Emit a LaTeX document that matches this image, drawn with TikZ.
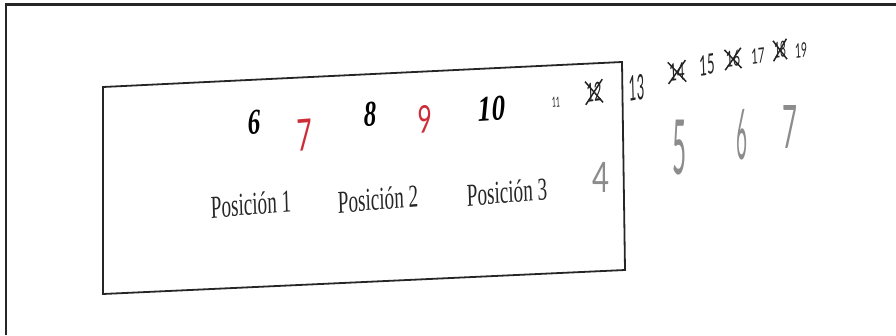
\documentclass[tikz,border=0pt]{standalone}
\usepackage{fontspec}
\setmainfont{Liberation Serif}
\newfontfamily\hand{Lato}
\definecolor{redink}{RGB}{205,45,55}
\definecolor{grayink}{RGB}{140,140,140}
\definecolor{darkink}{RGB}{35,35,35}
\tikzset{
  poslabel/.style={font=\fontsize{32}{34}\selectfont, xscale=0.6, rotate=2.7, inner sep=0pt, text=black!85},
  bignum/.style={font=\fontsize{36}{38}\selectfont\bfseries\itshape, xscale=#1, rotate=2.7, inner sep=0pt},
  hw/.style 2 args={font=\hand\fontsize{#1}{#1}\selectfont, xscale=#2, inner sep=0pt},
  rednum/.style={text=redink, rotate=2.7},
  smallnum/.style={text=darkink, rotate=4},
  graynum/.style={text=grayink},
  crossed/.style={draw=darkink, line width=1.5pt}
}
\begin{document}
\begin{tikzpicture}[x=1pt,y=-1pt]
\useasboundingbox (0,0) rectangle (896,335);
% outer frame (top and left)
\draw[line width=2.2pt, black!85] (6,335) -- (6,4.5) -- (896,4.5);
% inner skewed box
\draw[line width=1.8pt, black!85] (103,87) -- (622,62) -- (625,270) -- (103,294) -- cycle;
% printed numbers
\node[bignum=0.7] (n6) at (254,122) {6};
\node[hw={44}{0.6}, rednum] (n7) at (305,135) {7};
\node[bignum=0.7] (n8) at (370,114) {8};
\node[hw={38}{0.65}, rednum] (n9) at (425,119) {9};
\node[bignum=0.75] (n10) at (492,109) {10};
% positions
\node[poslabel] (p1) at (251,204) {Posición 1};
\node[poslabel] (p2) at (378,199) {Posición 2};
\node[poslabel] (p3) at (507,192) {Posición 3};
% handwritten small numbers
\node[hw={14}{0.5}, smallnum] (h11) at (556,102) {11};
\node[hw={26}{0.5}, smallnum, inner sep=2pt] (h12) at (594,92) {12};
\draw[crossed] (h12.south west) -- (h12.north east) (h12.north west) -- (h12.south east);
\node[hw={35}{0.37}, smallnum] (h13) at (637,88) {13};
\node[hw={24}{0.55}, smallnum, inner sep=2pt] (h14) at (677,72) {14};
\draw[crossed] (h14.south west) -- (h14.north east) (h14.north west) -- (h14.south east);
\node[hw={28}{0.47}, smallnum] (h15) at (707,65) {15};
\node[hw={22}{0.55}, smallnum, inner sep=2pt] (h16) at (733,59) {16};
\draw[crossed] (h16.south west) -- (h16.north east) (h16.north west) -- (h16.south east);
\node[hw={21}{0.54}, smallnum] (h17) at (758,56) {17};
\node[hw={22}{0.45}, smallnum, inner sep=2pt] (h18) at (780,50) {18};
\draw[crossed] (h18.south west) -- (h18.north east) (h18.north west) -- (h18.south east);
\node[hw={20}{0.52}, smallnum] (h19) at (801,50) {19};
% handwritten gray numbers
\node[hw={42}{0.7}, graynum] (g4) at (601,177) {4};
\node[hw={76}{0.32}, graynum] (g5) at (680,148) {5};
\node[hw={70}{0.27}, graynum] (g6) at (742,135) {6};
\node[hw={60}{0.43}, graynum] (g7) at (790,127) {7};
\end{tikzpicture}
\end{document}
